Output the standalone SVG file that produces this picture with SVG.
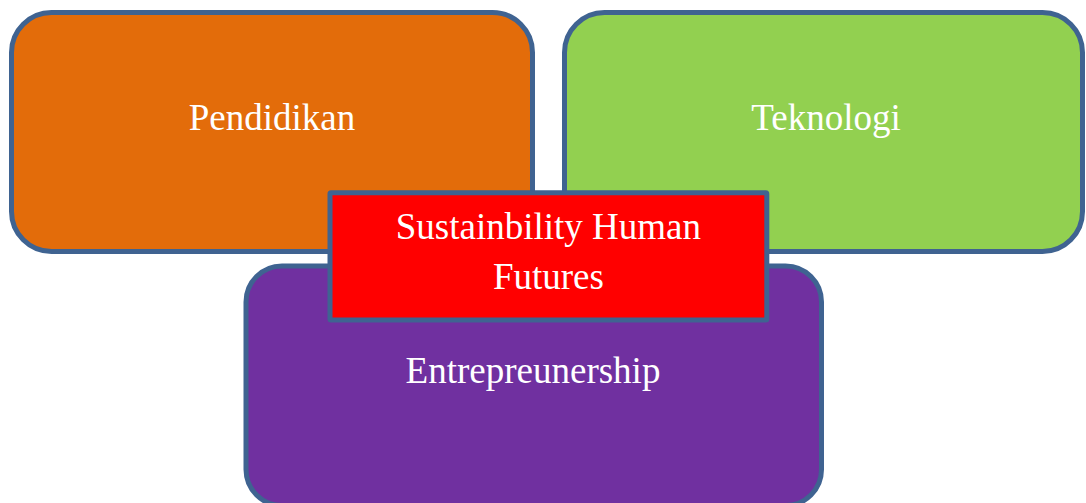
<svg xmlns="http://www.w3.org/2000/svg" width="1086" height="503" viewBox="0 0 1086 503">
<style>
.box{stroke:#3F6391;stroke-width:5}
.lbl{font-family:"Liberation Serif","Times New Roman",serif;font-size:37px;fill:#FFFFFF;text-anchor:middle}
</style>
<rect width="1086" height="503" fill="#FFFFFF"/>
<g id="connectors"></g>
<g id="pendidikan">
<rect class="box" x="11.5" y="12.5" width="521" height="239" rx="40" fill="#E36C0A"/>
<text class="lbl" x="272" y="130">Pendidikan</text>
</g>
<g id="teknologi">
<rect class="box" x="564.5" y="12.5" width="518" height="239" rx="40" fill="#92D050"/>
<text class="lbl" x="826" y="130">Teknologi</text>
</g>
<g id="entrepreunership">
<rect class="box" x="246" y="266" width="575.5" height="239.5" rx="36" fill="#7030A0"/>
<text class="lbl" x="533" y="383">Entrepreunership</text>
</g>
<g id="sustainability">
<rect class="box" x="330" y="192.7" width="436.8" height="127.3" rx="1" fill="#FF0000"/>
<text class="lbl" x="548.4" y="238.5">Sustainbility Human</text>
<text class="lbl" x="548.4" y="289.3">Futures</text>
</g>
</svg>
